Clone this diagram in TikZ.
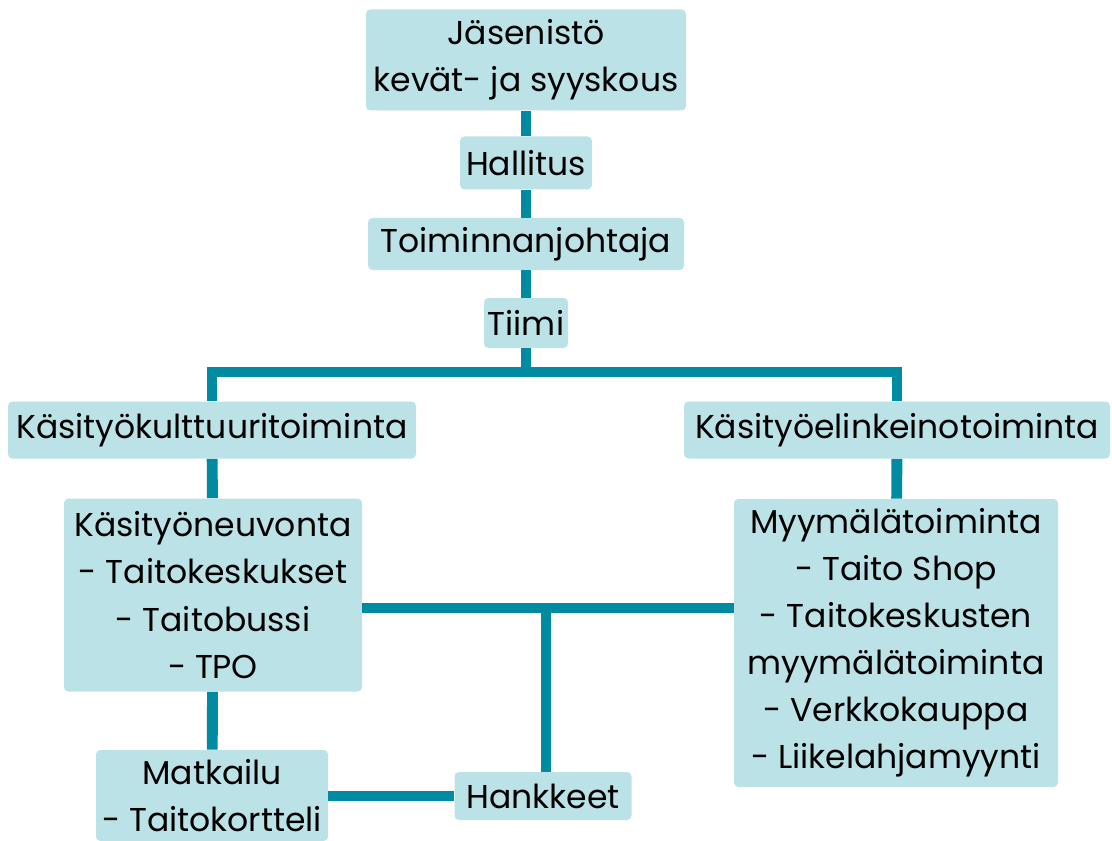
\documentclass[tikz,border=0pt]{standalone}
\usepackage{fontspec}
\setmainfont{Poppins}
\usepackage{tikz}
\usetikzlibrary{calc}
\definecolor{orgfill}{RGB}{187,226,230}
\definecolor{orgline}{RGB}{0,139,163}

\begin{document}
\begin{tikzpicture}[
  x=0.02cm, y=-0.02cm,
  box/.style={fill=orgfill, rounded corners=2.5pt, inner sep=0pt,
              font=\fontsize{18.8}{26.8}\selectfont, align=center},
  conn/.style={draw=orgline, line width=6.2pt},
]
  \useasboundingbox (0,0) rectangle (1112,841);

  \node[box, minimum width=320*0.02cm, minimum height=101*0.02cm] (jasen) at (526,60) {Jäsenistö\\kevät- ja syyskous};
  \node[box, minimum width=132*0.02cm, minimum height=53*0.02cm] (hallitus) at (526,163) {Hallitus};
  \node[box, minimum width=316*0.02cm, minimum height=52*0.02cm] (johtaja) at (526,244) {Toiminnanjohtaja};
  \node[box, minimum width=84*0.02cm, minimum height=50*0.02cm] (tiimi) at (526,323) {Tiimi};

  \node[box, minimum width=408*0.02cm, minimum height=57*0.02cm] (kult) at (212,430) {Käsityökulttuuritoiminta};
  \node[box, minimum width=426*0.02cm, minimum height=57*0.02cm] (elink) at (897,430) {Käsityöelinkeinotoiminta};

  \node[box, minimum width=298*0.02cm, minimum height=193*0.02cm] (neuvonta) at (213,595) {Käsityöneuvonta\\- Taitokeskukset\\- Taitobussi\\- TPO};
  \node[box, minimum width=324*0.02cm, minimum height=288*0.02cm] (myymala) at (896,643) {Myymälätoiminta\\- Taito Shop\\- Taitokeskusten\\myymälätoiminta\\- Verkkokauppa\\- Liikelahjamyynti};

  \node[box, minimum width=177*0.02cm, minimum height=48*0.02cm] (hankkeet) at (543,796) {Hankkeet};
  \node[box, minimum width=232*0.02cm, minimum height=91*0.02cm] (matkailu) at (212,795.5) {Matkailu\\- Taitokortteli};

  \coordinate (bus) at (526,372);
  \coordinate (hub) at (546,608);

  \draw[conn] (jasen) -- (hallitus);
  \draw[conn] (hallitus) -- (johtaja);
  \draw[conn] (johtaja) -- (tiimi);
  \draw[conn] (tiimi) -- (bus);
  \draw[conn] (kult.north) |- (bus) -| (elink.north);
  \draw[conn] (kult) -- (neuvonta);
  \draw[conn] (elink) -- (myymala);
  \draw[conn] (neuvonta) -- (matkailu);
  \draw[conn] (neuvonta.east |- hub) -- (myymala.west |- hub);
  \draw[conn] (hub) -- (hub |- hankkeet.north);
  \draw[conn] (matkailu.east |- hankkeet.west) -- (hankkeet.west);
\end{tikzpicture}
\end{document}
